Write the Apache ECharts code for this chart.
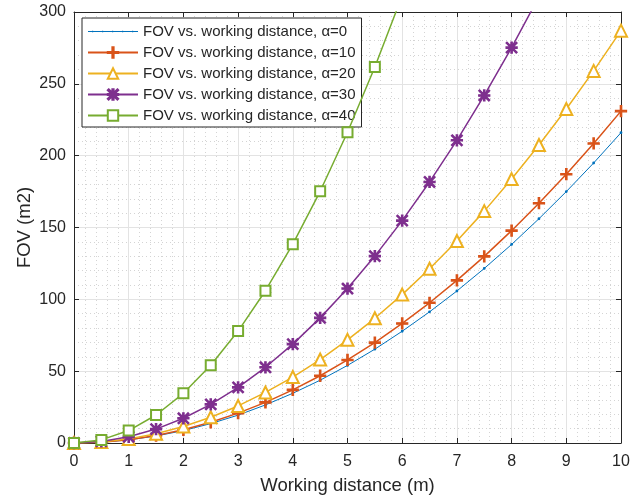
<!DOCTYPE html>
<html>
<head>
<meta charset="utf-8">
<script src="https://cdn.jsdelivr.net/npm/echarts@6/dist/echarts.min.js"></script>
<style>
html, body { margin: 0; padding: 0; background: #fff; }
#chart { width: 639px; height: 498px; }
</style>
</head>
<body>
<div id="chart"></div>
<script>
// working distance (m)
var distance = [0, 0.5, 1, 1.5, 2, 2.5, 3, 3.5, 4, 4.5, 5, 5.5, 6, 6.5, 7, 7.5, 8, 8.5, 9, 9.5, 10];

// FOV (m2)
var fovA0  = [0, 0.54, 2.16, 4.86, 8.64, 13.5, 19.4, 26.5, 34.6, 43.7, 54.0, 65.3, 77.8, 91.3, 105.8, 121.5, 138.2, 156.1, 175.0, 194.9, 216.0];
var fovA10 = [0, 0.58, 2.31, 5.2, 9.24, 14.4, 20.8, 28.3, 37.0, 46.8, 57.8, 69.9, 83.2, 97.6, 113.2, 129.9, 147.8, 166.9, 187.1, 208.5, 231.0];
var fovA20 = [0, 0.72, 2.87, 6.46, 11.5, 17.9, 25.8, 35.2, 45.9, 58.1, 71.8, 86.8, 103.3, 121.3, 140.6, 161.4, 183.7, 207.4, 232.5, 259.0, 287.0];
var fovA30 = [0, 1.08, 4.3, 9.68, 17.2, 26.9, 38.7, 52.7, 68.8, 87.1, 107.5, 130.1, 154.8, 181.7, 210.7, 241.9, 275.2, 310.7, 348.3, 388.1, 430.0];
var fovA40 = [0, 2.16, 8.65, 19.5, 34.6, 54.1, 77.9, 106.0, 138.4, 175.2, 216.3, 261.7, 311.4, 365.5, 423.9, 486.6, 553.6, 625.0, 700.7, 780.7, 865.0];

var seriesNames = [
  'FOV vs. working distance, α=0',
  'FOV vs. working distance, α=10',
  'FOV vs. working distance, α=20',
  'FOV vs. working distance, α=30',
  'FOV vs. working distance, α=40'
];
var xTicks = [0, 1, 2, 3, 4, 5, 6, 7, 8, 9, 10];
var yTicks = [0, 50, 100, 150, 200, 250, 300];

var colors = ['#0072BD', '#D95319', '#EDB120', '#7E2F8E', '#77AC30'];
var plusPath = 'path://M4.4,0 H5.6 V10 H4.4 Z M0,4.4 H10 V5.6 H0 Z';
var starPath = 'path://M4.4,0 H5.6 V10 H4.4 Z M0,4.4 H10 V5.6 H0 Z M0.8,0 L10,9.2 L9.2,10 L0,0.8 Z M9.2,0 L10,0.8 L0.8,10 L0,9.2 Z';
// thin dotted line for the alpha=0 legend entry (50x13 box)
var dotLinePath = 'path://M0,0 L0,0 Z M50,13 L50,13 Z M0,6.1 H50 V6.9 H0 Z' +
  ' M4,5.7 h1.2 v1.6 h-1.2 Z M14,5.7 h1.2 v1.6 h-1.2 Z M24,5.7 h1.2 v1.6 h-1.2 Z M34,5.7 h1.2 v1.6 h-1.2 Z M44,5.7 h1.2 v1.6 h-1.2 Z';

function pairs(ys) {
  var out = [];
  for (var i = 0; i < distance.length; i++) out.push([distance[i], ys[i]]);
  return out;
}

var allData = [fovA0, fovA10, fovA20, fovA30, fovA40];
var symbols = ['circle', plusPath, 'emptyTriangle', starPath, 'emptyRect'];
var symbolSizes = [1.5, 11, 12, 11, 10];
var widths = [1, 1.5, 1.5, 1.5, 1.5];

var series = [];
for (var i = 0; i < allData.length; i++) {
  series.push({
    name: seriesNames[i],
    type: 'line',
    xAxisIndex: 0,
    yAxisIndex: 0,
    data: pairs(allData[i]),
    symbol: symbols[i],
    symbolSize: symbolSizes[i],
    showAllSymbol: true,
    clip: true,
    lineStyle: { color: colors[i], width: widths[i] },
    itemStyle: { color: colors[i], borderColor: colors[i], borderWidth: 1.3 },
    z: 3 + i
  });
}

var legendData = seriesNames.map(function (n, i) {
  return i === 0 ? { name: n, icon: dotLinePath, itemStyle: { color: colors[0], borderWidth: 0 } } : { name: n };
});

var axisColor = '#262626';
var font = 'Liberation Sans';
var chart = echarts.init(document.getElementById('chart'));
chart.setOption({
  animation: false,
  color: colors,
  grid: { left: 74, right: 18, top: 12, bottom: 55, containLabel: false, outerBoundsMode: 'none' },
  legend: {
    orient: 'vertical',
    left: 82,
    top: 18,
    padding: [6, 6, 4, 5],
    itemWidth: 50,
    itemHeight: 13,
    itemGap: 6,
    backgroundColor: '#fff',
    borderColor: '#262626',
    borderWidth: 1,
    borderRadius: 0,
    data: legendData,
    textStyle: { fontFamily: font, fontSize: 15, color: axisColor }
  },
  xAxis: [{
    type: 'value',
    min: 0, max: 10, interval: 1,
    name: 'Working distance (m)',
    nameLocation: 'middle',
    nameGap: 33,
    nameMoveOverlap: false,
    nameTextStyle: { fontFamily: font, fontSize: 18.5, color: axisColor },
    axisLine: { show: true, onZero: false, lineStyle: { color: axisColor, width: 1 } },
    axisTick: { show: true, inside: true, length: 5, lineStyle: { color: axisColor } },
    axisLabel: {
      margin: 11, fontFamily: font, fontSize: 16, color: axisColor,
      formatter: function (v) { return xTicks.indexOf(v) >= 0 ? String(v) : ''; }
    },
    splitLine: { show: true, lineStyle: { color: '#e3e3e3', width: 1 } },
    minorTick: { show: false, splitNumber: 5 },
    minorSplitLine: { show: true, lineStyle: { color: '#d4d4d4', type: [1, 3], width: 1 } }
  }, {
    type: 'value', position: 'top',
    min: 0, max: 10, interval: 1,
    axisLine: { show: true, onZero: false, lineStyle: { color: axisColor, width: 1 } },
    axisTick: { show: true, inside: true, length: 5, lineStyle: { color: axisColor } },
    axisLabel: { show: false },
    splitLine: { show: false }
  }],
  yAxis: [{
    type: 'value',
    min: 0, max: 300, interval: 50,
    name: 'FOV (m2)',
    nameLocation: 'middle',
    nameGap: 40,
    nameMoveOverlap: false,
    nameTextStyle: { fontFamily: font, fontSize: 18.5, color: axisColor },
    axisLine: { show: true, onZero: false, lineStyle: { color: axisColor, width: 1 } },
    axisTick: { show: true, inside: true, length: 5, lineStyle: { color: axisColor } },
    axisLabel: {
      margin: 8, fontFamily: font, fontSize: 16, color: axisColor,
      formatter: function (v) { return yTicks.indexOf(v) >= 0 ? String(v) : ''; }
    },
    splitLine: { show: true, lineStyle: { color: '#e3e3e3', width: 1 } },
    minorTick: { show: false, splitNumber: 5 },
    minorSplitLine: { show: true, lineStyle: { color: '#d4d4d4', type: [1, 3], width: 1 } }
  }, {
    type: 'value', position: 'right',
    min: 0, max: 300, interval: 50,
    axisLine: { show: true, onZero: false, lineStyle: { color: axisColor, width: 1 } },
    axisTick: { show: true, inside: true, length: 5, lineStyle: { color: axisColor } },
    axisLabel: { show: false },
    splitLine: { show: false }
  }],
  series: series
});
</script>
</body>
</html>
